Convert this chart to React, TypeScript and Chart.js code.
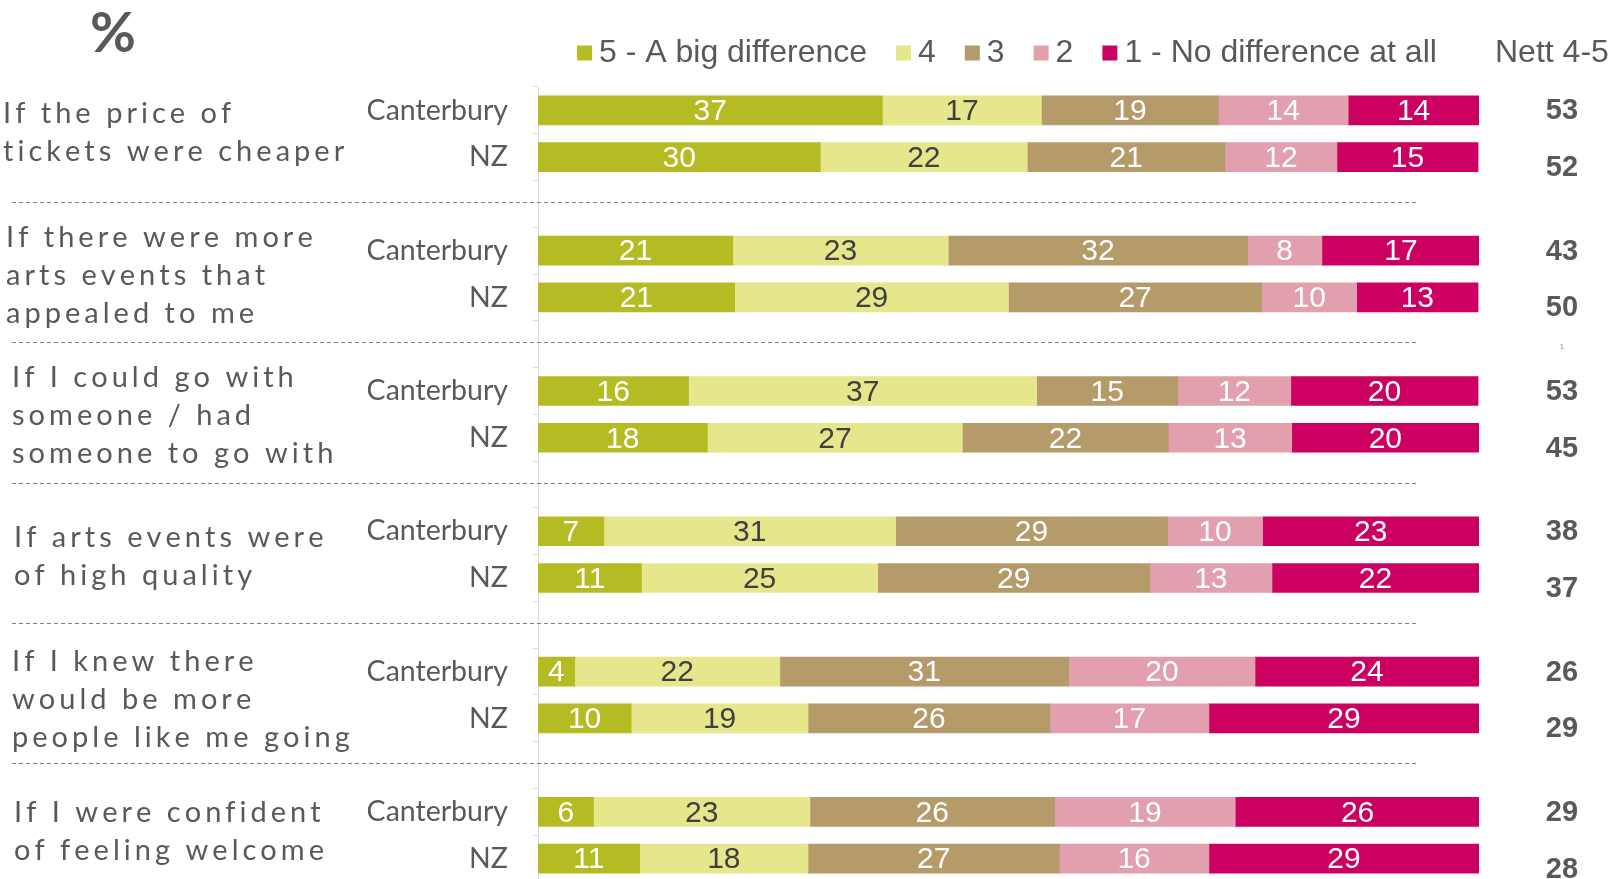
import React, { useEffect, useRef } from 'react';
import { Chart, registerables } from 'chart.js';

Chart.register(...registerables);

// ---------- data ----------
const groupLabels: string[][] = [
  ['If the price of', 'tickets were cheaper'],
  ['If there were more', 'arts events that', 'appealed to me'],
  ['If I could go with', 'someone / had', 'someone to go with'],
  ['If arts events were', 'of high quality'],
  ['If I knew there', 'would be more', 'people like me going'],
  ['If I were confident', 'of feeling welcome'],
];
const regions = ['Canterbury', 'NZ'];
const seriesNames = ['5 - A big difference', '4', '3', '2', '1 - No difference at all'];

// rows: Canterbury, NZ for each group (in order)
const score5 = [36.6, 30.0, 20.7, 20.9, 16.0, 18.0, 7.0, 11.0, 3.9, 9.9, 5.9, 10.8];
const score4 = [16.9, 22.0, 22.9, 29.1, 37.0, 27.1, 31.0, 25.1, 21.8, 18.8, 23.0, 17.9];
const score3 = [18.8, 21.0, 31.8, 26.9, 15.0, 21.9, 28.9, 28.9, 30.7, 25.7, 26.0, 26.7];
const score2 = [13.8, 11.9, 7.9, 10.1, 12.0, 13.1, 10.1, 13.0, 19.8, 16.9, 19.2, 15.9];
const score1 = [13.9, 15.0, 16.8, 12.9, 19.9, 19.9, 23.0, 22.0, 23.8, 28.7, 26.0, 28.7];
const nett45 = [53, 52, 43, 50, 53, 45, 38, 37, 26, 29, 29, 28];

// ---------- styles ----------
const seriesColors = ['#B5BB22', '#E6E68C', '#B59A6A', '#E29FAE', '#CC0060'];
const valueColors = ['#FFFFFF', '#404040', '#FFFFFF', '#FFFFFF', '#FFFFFF'];
const GRAY = '#595959';
const ARIAL = '"Liberation Sans", Arial, sans-serif';
const LATO = 'Lato, "Open Sans", sans-serif';
const groupIndents = [3, 6, 12, 14, 12, 14];
const groupNudges = [0, 3, 2, 3, 6, -3];

// categories: Canterbury, NZ, (blank spacer) per group
const catLabels: string[] = [];
const catRow: (number | null)[] = [];
groupLabels.forEach((_, g) => {
  regions.forEach((r, j) => {
    catLabels.push(r);
    catRow.push(g * 2 + j);
  });
  if (g < groupLabels.length - 1) {
    catLabels.push('');
    catRow.push(null);
  }
});
const toCats = (arr: number[]) => catRow.map((r) => (r === null ? null : arr[r]));
const seriesData = [score5, score4, score3, score2, score1];

const overlayPlugin = {
  id: 'overlay',
  afterDatasetsDraw(chart: any) {
    const { ctx } = chart;
    const y = chart.scales.y;
    ctx.save();

    // segment values
    ctx.textAlign = 'center';
    ctx.textBaseline = 'middle';
    ctx.font = `30px ${ARIAL}`;
    chart.data.datasets.forEach((ds: any, di: number) => {
      const meta = chart.getDatasetMeta(di);
      meta.data.forEach((bar: any, i: number) => {
        const v = ds.data[i];
        if (v === null || v === undefined) return;
        const p = bar.getProps(['x', 'base', 'y'], true);
        ctx.fillStyle = valueColors[di];
        ctx.fillText(String(Math.round(v)), (p.x + p.base) / 2, p.y + 1.5);
      });
    });

    // region labels and nett values
    catLabels.forEach((lab, i) => {
      const r = catRow[i];
      if (r === null) return;
      const py = y.getPixelForValue(i);
      ctx.textAlign = 'right';
      ctx.textBaseline = 'middle';
      ctx.fillStyle = GRAY;
      ctx.font = `28.5px ${LATO}`;
      ctx.fillText(lab, 508, py);
      ctx.textAlign = 'center';
      ctx.font = `bold 29px ${ARIAL}`;
      ctx.fillText(String(nett45[r]), 1562, py + (r % 2 === 0 ? 1 : 11));
    });

    // group labels (letter spaced)
    ctx.font = `29px ${LATO}`;
    const ref = 'tickets were cheaper';
    const refW = ctx.measureText(ref).width;
    const spacing = Math.max(0, Math.min(8, (340 - refW) / (ref.length - 1)));
    groupLabels.forEach((lines, g) => {
      const i0 = catRow.indexOf(g * 2);
      const mid = (y.getPixelForValue(i0) + y.getPixelForValue(i0 + 1)) / 2;
      const lh = 38;
      const start = mid - ((lines.length - 1) * lh) / 2 - 1 + groupNudges[g];
      ctx.textAlign = 'left';
      ctx.textBaseline = 'middle';
      ctx.fillStyle = GRAY;
      lines.forEach((line, k) => {
        let cx = groupIndents[g];
        for (const ch of line) {
          ctx.fillText(ch, cx, start + k * lh);
          cx += ctx.measureText(ch).width + spacing;
        }
      });
    });

    // dashed separators at spacer rows
    ctx.strokeStyle = '#808080';
    ctx.lineWidth = 1;
    ctx.setLineDash([4, 3]);
    catRow.forEach((r, i) => {
      if (r !== null) return;
      const py = Math.round(y.getPixelForValue(i) - 2) + 0.5;
      ctx.beginPath();
      ctx.moveTo(12, py);
      ctx.lineTo(1419, py);
      ctx.stroke();
    });
    ctx.setLineDash([]);

    // tiny stray mark
    ctx.font = `7px ${ARIAL}`;
    ctx.textAlign = 'center';
    ctx.fillStyle = '#808080';
    ctx.fillText('1', 1562, y.getPixelForValue(5) + 3);

    // legend
    ctx.font = `32px ${ARIAL}`;
    ctx.textBaseline = 'middle';
    ctx.textAlign = 'left';
    let lx = 577;
    const ly = 53;
    chart.data.datasets.forEach((ds: any) => {
      ctx.fillStyle = ds.backgroundColor;
      ctx.fillRect(lx, ly - 7.5, 15, 15);
      lx += 22;
      ctx.fillStyle = GRAY;
      ctx.fillText(ds.label, lx, ly);
      lx += ctx.measureText(ds.label).width + 29;
    });
    ctx.fillText('Nett 4-5', 1495, ly);

    // percent sign
    ctx.font = `bold 56px ${LATO}`;
    ctx.textAlign = 'center';
    ctx.fillStyle = GRAY;
    ctx.fillText('%', 113, 34);

    ctx.restore();
  },
};

export default function App() {
  const ref = useRef<HTMLCanvasElement | null>(null);
  useEffect(() => {
    document.body.style.margin = '0';
    document.body.style.overflow = 'hidden';
    if (!ref.current) return;
    const chart = new Chart(ref.current, {
      type: 'bar',
      data: {
        labels: catLabels,
        datasets: seriesNames.map((name, i) => ({
          label: name,
          data: toCats(seriesData[i]) as any,
          backgroundColor: seriesColors[i],
          borderWidth: 0,
          barThickness: 29,
          stack: 'all',
        })),
      },
      options: {
        indexAxis: 'y',
        responsive: false,
        animation: false,
        events: [],
        layout: { padding: { left: 538, right: 137, top: 87, bottom: 0 } },
        scales: {
          x: { display: false, min: 0, max: 100, stacked: true },
          y: {
            stacked: true,
            grid: { drawOnChartArea: false, tickLength: 5, color: '#D9D9D9', offset: true },
            border: { color: '#D9D9D9', width: 1 },
            ticks: { display: false },
            afterFit: (s: any) => {
              s.width = 0;
            },
          },
        },
        plugins: {
          legend: { display: false },
          tooltip: { enabled: false },
        },
      },
      plugins: [overlayPlugin],
    });
    return () => chart.destroy();
  }, []);
  return (
    <div style={{ width: 1616, height: 879, overflow: 'hidden', background: '#fff' }}>
      <canvas ref={ref} width={1616} height={882} style={{ display: 'block', width: 1616, height: 882 }} />
    </div>
  );
}
